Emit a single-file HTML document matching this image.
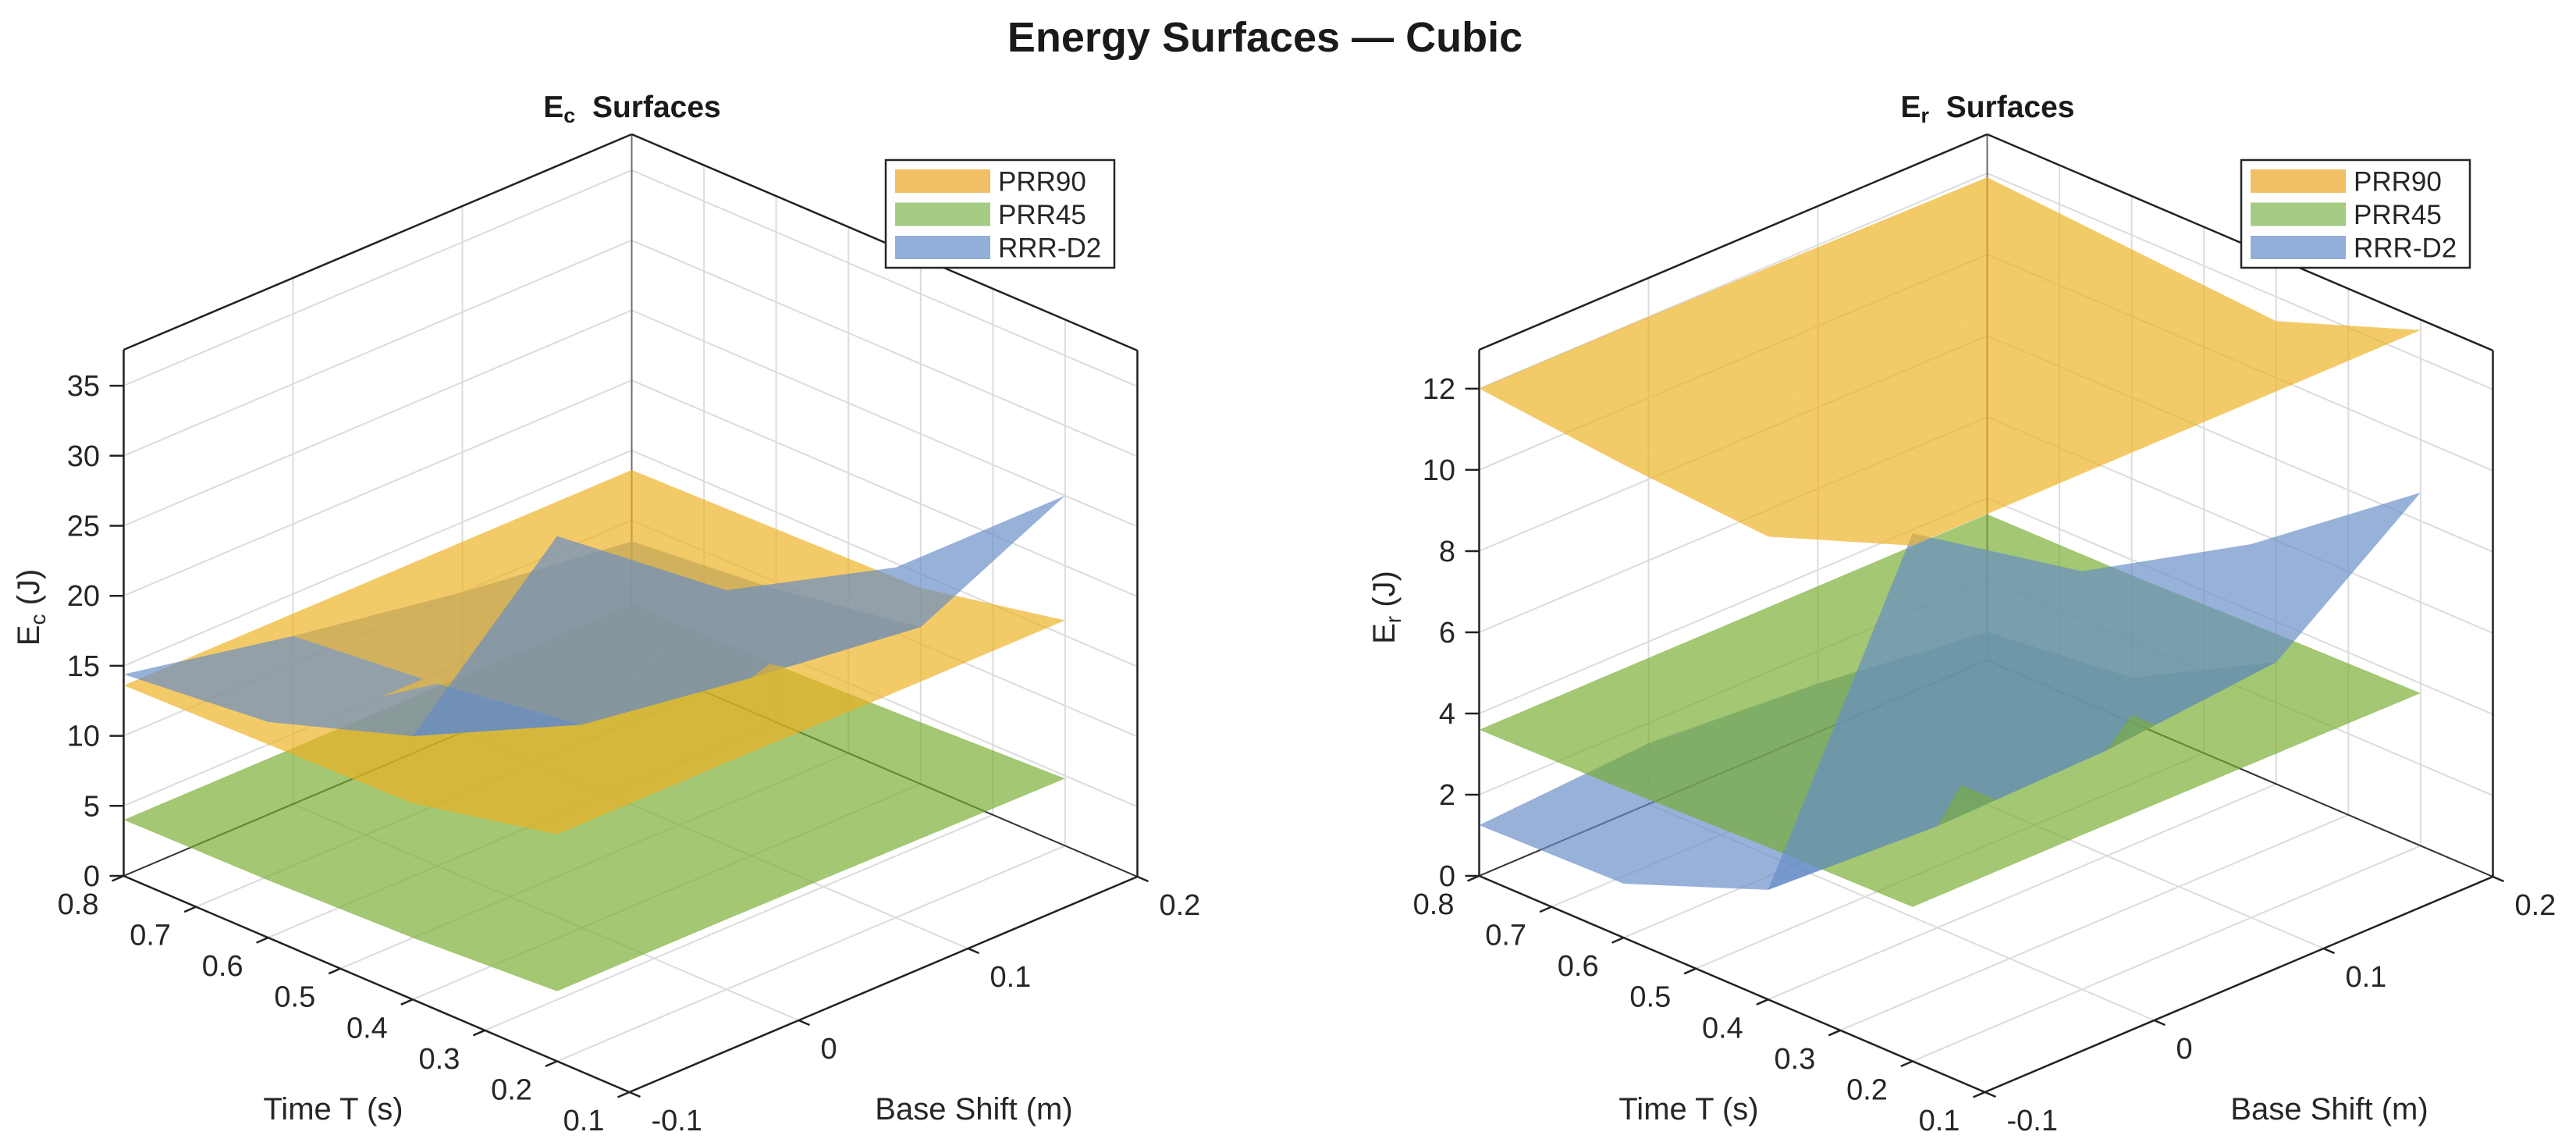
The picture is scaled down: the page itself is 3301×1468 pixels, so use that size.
<!DOCTYPE html>
<html><head><meta charset="utf-8"><style>
html,body{margin:0;padding:0;background:#fff;}
svg{display:block;font-family:"Liberation Sans",Arial,sans-serif;}
</style></head><body>
<svg id="fig" xmlns="http://www.w3.org/2000/svg" width="3301" height="1468" viewBox="0 0 3301 1468">
<rect width="3301" height="1468" fill="#fff"/>
<text x="1621" y="66" text-anchor="middle" font-size="54" font-weight="bold" fill="#1a1a1a">Energy Surfaces — Cubic</text>
<g id="panels"></g>
</svg>
<script>
// ---- data ----
const T_VALUES = [0.2, 0.4, 0.6, 0.8];
const S_VALUES = [-0.1, 0.0, 0.1, 0.2];
const SERIES_NAMES = ["PRR90", "PRR45", "RRR-D2"];
const EC_PRR90 = [[16.2,16.2,16.1,16.1],[14.0,14.0,14.0,14.0],[13.8,13.8,13.8,13.8],[13.6,13.6,13.6,13.6]];
const EC_PRR45 = [[5.0,5.0,4.9,4.8],[4.4,4.4,4.4,4.4],[4.1,4.1,4.1,4.1],[4.0,4.0,4.0,4.0]];
const EC_RRRD2 = [[37.5,28.5,25.0,25.0],[18.8,14.5,12.7,11.2],[15.4,13.0,11.0,9.5],[14.4,12.0,10.0,8.5]];
const ER_PRR90 = [[12.7,12.7,12.7,12.7],[11.4,11.4,11.4,11.4],[11.65,11.65,11.65,11.65],[12.0,12.0,11.95,11.9]];
const ER_PRR45 = [[3.8,3.8,3.78,3.76],[3.75,3.75,3.72,3.7],[3.65,3.65,3.63,3.62],[3.6,3.6,3.6,3.6]];
const ER_RRRD2 = [[13.0,10.3,9.2,8.7],[2.7,2.5,2.6,3.0],[1.33,1.3,1.2,1.1],[1.25,1.5,1.2,0.7]];
const T_TICKS = [0.1,0.2,0.3,0.4,0.5,0.6,0.7,0.8];
const S_TICKS = [-0.1,0,0.1,0.2];
const EC_Z_TICKS = [0,5,10,15,20,25,30,35];
const ER_Z_TICKS = [0,2,4,6,8,10,12];

const FILLS = ["#EDB120","#77AC30","#668CC7"];
const SWATCH = ["#F0BF66","#A6CB85","#93AED8"];
const NS = "http://www.w3.org/2000/svg";
const root = document.getElementById('panels');

function mk(tag, attrs, parent, text){
  const e = document.createElementNS(NS, tag);
  for (const k in attrs) e.setAttribute(k, attrs[k]);
  if (text !== undefined) e.textContent = text;
  (parent||root).appendChild(e);
  return e;
}

function makePanel(cfg){
  const g = mk('g', {});
  
  
  const k = 674 / cfg.zmax;
  function P(T, S, z){
    return [cfg.ox + 158.5 + (0.8 - T) * 925.7 + (S + 0.1) * 2170,
            1122 + (0.8 - T) * 395.7 - (S + 0.1) * 920 - z * k];
  }
  function line(a, b, stroke, w, name){
    const l = mk('line', {x1:a[0].toFixed(1), y1:a[1].toFixed(1), x2:b[0].toFixed(1), y2:b[1].toFixed(1), stroke:stroke, 'stroke-width':w}, g);
    
    
    return l;
  }
  const GC = "#dcdcdc";
  T_TICKS.forEach(t => { line(P(t,-0.1,0), P(t,0.2,0), GC, 2, 'floor-grid-t'); });
  S_TICKS.forEach(s => { line(P(0.1,s,0), P(0.8,s,0), GC, 2, 'floor-grid-s'); });
  S_TICKS.forEach(s => { line(P(0.8,s,0), P(0.8,s,cfg.zmax), GC, 2, 'wall-grid-s'); });
  cfg.zticks.forEach(z => { line(P(0.8,-0.1,z), P(0.8,0.2,z), GC, 2, 'wall-grid-z'); });
  T_TICKS.forEach(t => { line(P(t,0.2,0), P(t,0.2,cfg.zmax), GC, 2, 'wall-grid-t'); });
  cfg.zticks.forEach(z => { line(P(0.1,0.2,z), P(0.8,0.2,z), GC, 2, 'wall-grid-z2'); });
  line(P(0.8,0.2,0), P(0.8,0.2,cfg.zmax), "#6e6e6e", 2, 'back-vertical-edge');
  line(P(0.8,-0.1,0), P(0.8,0.2,0), "#333", 2, 'floor-back-edge-left');
  line(P(0.8,0.2,0), P(0.1,0.2,0), "#333", 2, 'floor-back-edge-right');
  line(P(0.8,-0.1,cfg.zmax), P(0.8,0.2,cfg.zmax), "#222", 2.5, 'top-edge-left');
  line(P(0.8,0.2,cfg.zmax), P(0.1,0.2,cfg.zmax), "#222", 2.5, 'top-edge-right');
  line(P(0.8,-0.1,0), P(0.8,-0.1,cfg.zmax), "#222", 2.5, 'z-axis-line');
  line(P(0.1,0.2,0), P(0.1,0.2,cfg.zmax), "#222", 2.5, 'right-vertical-edge');

  const quads = [];
  cfg.series.forEach((Z, si) => {
    for (let i = 0; i < T_VALUES.length - 1; i++) {
      for (let j = 0; j < S_VALUES.length - 1; j++) {
        const idx = [[i,j],[i+1,j],[i+1,j+1],[i,j+1]];
        const pts = idx.map(([a,b]) => P(T_VALUES[a], S_VALUES[b], Z[a][b]));
        const fy = idx.map(([a,b]) => P(T_VALUES[a], S_VALUES[b], 0)[1] + Z[a][b]*k*0.5);
        const depth = fy.reduce((x,y)=>x+y,0)/4;
        quads.push({pts, si, depth});
      }
    }
  });
  quads.sort((a,b) => a.depth - b.depth);
  quads.forEach(q => {
    const p = mk('polygon', {points: q.pts.map(v => v[0].toFixed(1)+','+v[1].toFixed(1)).join(' '), fill: FILLS[q.si], 'fill-opacity': 0.68}, g);
    
    
  });

  line(P(0.8,-0.1,0), P(0.1,-0.1,0), "#222", 2.5, 't-axis-line');
  line(P(0.1,-0.1,0), P(0.1,0.2,0), "#222", 2.5, 's-axis-line');
  cfg.zticks.forEach(z => {
    const a = P(0.8,-0.1,z);
    line(a, [a[0]-18, a[1]], "#222", 2.5, 'z-tick');
    const t = mk('text', {x:(cfg.ox+128), y:a[1]+13, 'text-anchor':'end', 'font-size':38, fill:'#262626'}, g, String(z));
    
    
  });
  T_TICKS.forEach(tv => {
    const a = P(tv,-0.1,0);
    line(a, [a[0]-15, a[1]+6.5], "#222", 2.5, 't-tick');
    const t = mk('text', {x:a[0]-32, y:a[1]+49, 'text-anchor':'end', 'font-size':38, fill:'#262626'}, g, tv.toFixed(1));
    
    
  });
  S_TICKS.forEach(sv => {
    const a = P(0.1,sv,0);
    line(a, [a[0]+14, a[1]+6], "#222", 2.5, 's-tick');
    const lab = sv === 0 ? '0' : sv.toFixed(1);
    const t = mk('text', {x:a[0]+28, y:a[1]+49, 'text-anchor':'start', 'font-size':38, fill:'#262626'}, g, lab);
    
    
  });
  let t = mk('text', {x:cfg.ox+427, y:1434, 'text-anchor':'middle', 'font-size':40, fill:'#262626'}, g, 'Time T (s)');
  
  
  t = mk('text', {x:cfg.ox+1248, y:1434, 'text-anchor':'middle', 'font-size':40, fill:'#262626'}, g, 'Base Shift (m)');
  
  
  t = mk('text', {x:0, y:0, 'text-anchor':'middle', 'font-size':40, fill:'#262626', transform:'translate('+(cfg.ox+50)+',778) rotate(-90)'}, g);
  
  
  mk('tspan', {}, t, 'E');
  mk('tspan', {'font-size':28, dy:8}, t, cfg.sub);
  mk('tspan', {dy:-8}, t, ' (J)');
  t = mk('text', {x:cfg.ox+810, y:150, 'text-anchor':'middle', 'font-size':39, 'font-weight':'bold', fill:'#1a1a1a'}, g);
  
  
  mk('tspan', {}, t, 'E');
  mk('tspan', {'font-size':27, dy:7}, t, cfg.sub);
  mk('tspan', {dy:-7}, t, '\u00a0 Surfaces');
  const lg = mk('g', {}, g);
  
  
  mk('rect', {x:cfg.ox+1135, y:205, width:293, height:138, fill:'#fff', stroke:'#262626', 'stroke-width':2.5}, lg);
  SERIES_NAMES.forEach((nm, i) => {
    const cy = 232 + i*42.5;
    const sw = mk('rect', {x:cfg.ox+1147, y:cy-15, width:122, height:30, fill:SWATCH[i]}, lg);
    
    
    const tx = mk('text', {x:cfg.ox+1279, y:cy+12.5, 'font-size':35, fill:'#262626'}, lg, nm);
    
    
  });
}

makePanel({name:'ec-surfaces-panel', ox:0, zmax:37.57, zticks:EC_Z_TICKS, sub:'c', series:[EC_PRR90, EC_PRR45, EC_RRRD2]});
makePanel({name:'er-surfaces-panel', ox:1737, zmax:12.96, zticks:ER_Z_TICKS, sub:'r', series:[ER_PRR90, ER_PRR45, ER_RRRD2]});
</script>
</body></html>
